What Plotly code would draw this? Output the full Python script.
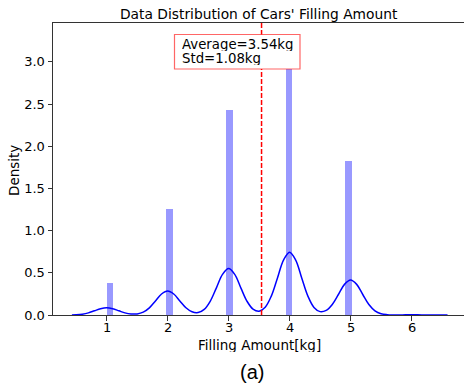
import math
import plotly.graph_objects as go

# ---- data ----
values = [1, 2, 3, 4, 5]                      # filling amounts (kg)
densities = [0.376, 1.254, 2.43, 3.30, 1.83]  # histogram densities
bin_start = 1.0
bin_count = 46
bin_end = 6.0

kde_x = [0.43, 0.5, 0.6, 0.7, 0.8, 0.9, 1.0, 1.1, 1.2, 1.3, 1.4, 1.5, 1.6, 1.7, 1.8, 1.9,
         2.0, 2.1, 2.2, 2.3, 2.4, 2.5, 2.6, 2.7, 2.8, 2.9, 3.0, 3.1, 3.2, 3.3, 3.4, 3.5,
         3.6, 3.7, 3.8, 3.9, 4.0, 4.1, 4.2, 4.3, 4.4, 4.5, 4.6, 4.7, 4.8, 4.9, 5.0, 5.1,
         5.2, 5.3, 5.4, 5.5, 5.6, 5.7, 5.8, 5.9, 6.0, 6.1, 6.2, 6.3, 6.4, 6.5, 6.59]
kde_y = [0.001, 0.003, 0.010, 0.025, 0.050, 0.074, 0.085, 0.074, 0.050, 0.025, 0.012, 0.013,
         0.034, 0.085, 0.167, 0.249, 0.285, 0.249, 0.167, 0.086, 0.038, 0.029, 0.066, 0.165,
         0.322, 0.481, 0.550, 0.481, 0.322, 0.165, 0.070, 0.045, 0.092, 0.224, 0.436, 0.651,
         0.745, 0.651, 0.436, 0.224, 0.090, 0.040, 0.055, 0.125, 0.243, 0.363, 0.415, 0.363,
         0.243, 0.124, 0.049, 0.015, 0.004, 0.001, 0.001, 0.002, 0.002, 0.002, 0.001, 0.000,
         0.000, 0.000, 0.000]

mean_val = 3.54
std_val = 1.08
x_ticks = [1, 2, 3, 4, 5, 6]
x_tick_labels = ["1", "2", "3", "4", "5", "6"]
y_ticks = [0.0, 0.5, 1.0, 1.5, 2.0, 2.5, 3.0]

title_text = "Data Distribution of Cars' Filling Amount"
x_label = "Filling Amount[kg]"
y_label = "Density"
caption = "(a)"

# ---- layout helpers (pixel -> paper) ----
L, T, PW, PH = 53, 23, 411, 292


def px(xp):
    return (xp - L) / PW


def py(yp):
    return (T + PH - yp) / PH


# ---- build ----
bw = (bin_end - bin_start) / bin_count
bar_centers = [bin_start + (math.floor((v - bin_start) / bw) + 0.5) * bw for v in values]

FONT = "DejaVu Sans"
fig = go.Figure()
fig.add_trace(go.Bar(x=bar_centers, y=densities, width=bw,
                     marker=dict(color="rgba(0,0,255,0.4)", line=dict(width=0)),
                     showlegend=False))
fig.add_trace(go.Scatter(x=kde_x, y=kde_y, mode="lines",
                         line=dict(color="#0000ff", width=1.5, shape="spline", smoothing=1.0),
                         showlegend=False))

# mean line
fig.add_shape(type="line", xref="x", yref="paper", x0=mean_val, x1=mean_val, y0=0, y1=1,
              layer="above", line=dict(color="#ff0000", width=1.5, dash="5px,2px"))
# stats box
fig.add_shape(type="rect", xref="paper", yref="paper", x0=px(174.5), x1=px(300),
              y0=py(69), y1=py(34.5), layer="above", fillcolor="white",
              line=dict(color="rgba(255,0,0,0.6)", width=1.2))
fig.add_annotation(xref="paper", yref="paper", x=px(180), y=py(44), xanchor="left",
                   yanchor="middle", text=f"Average={mean_val:.2f}kg", showarrow=False,
                   height=14, valign="middle",
                   font=dict(family=FONT, size=13.3, color="black"))
fig.add_annotation(xref="paper", yref="paper", x=px(180), y=py(58.3), xanchor="left",
                   yanchor="middle", text=f"Std={std_val:.2f}kg", showarrow=False,
                   height=14, valign="middle",
                   font=dict(family=FONT, size=13.3, color="black"))

# x tick labels
for xv, lab in zip(x_ticks, x_tick_labels):
    fig.add_annotation(xref="x", yref="paper", x=xv, y=py(327.3), xanchor="center",
                       yanchor="middle", text=lab, showarrow=False, height=14,
                       font=dict(family=FONT, size=13, color="black"))

fig.add_annotation(xref="paper", yref="paper", x=px(259), y=py(14), xanchor="center",
                   yanchor="middle", text=title_text, showarrow=False,
                   font=dict(family=FONT, size=13.8, color="black"))
fig.add_annotation(xref="paper", yref="paper", x=px(259), y=py(344), xanchor="center",
                   yanchor="middle", text=x_label, showarrow=False, height=15,
                   font=dict(family=FONT, size=13.5, color="black"))
fig.add_annotation(xref="paper", yref="paper", x=px(14), y=py(171), xanchor="center",
                   yanchor="middle", text=y_label, textangle=-90, showarrow=False,
                   font=dict(family=FONT, size=13.5, color="black"))
fig.add_annotation(xref="paper", yref="paper", x=px(252), y=py(371.7), xanchor="center",
                   yanchor="middle", text=caption, showarrow=False,
                   font=dict(family="Liberation Sans", size=20, color="black"))

fig.update_layout(
    width=464, height=385,
    margin=dict(l=L, r=464 - L - PW, t=T, b=385 - T - PH),
    paper_bgcolor="white", plot_bgcolor="white",
    bargap=0,
    xaxis=dict(range=[0.12, 6.86], tickvals=x_ticks, ticks="outside", ticklen=5,
               tickcolor="#333", showline=True, linecolor="#333", linewidth=1, mirror=True,
               showgrid=False, zeroline=False, showticklabels=False),
    yaxis=dict(range=[0, 3.46], tickvals=y_ticks, tickformat=".1f", ticks="outside",
               ticklen=4.5, tickcolor="#333", showline=True, linecolor="#333", linewidth=1,
               mirror=False, showgrid=False, zeroline=False,
               tickfont=dict(family=FONT, size=13, color="black")),
)

fig.write_html("out.html")
